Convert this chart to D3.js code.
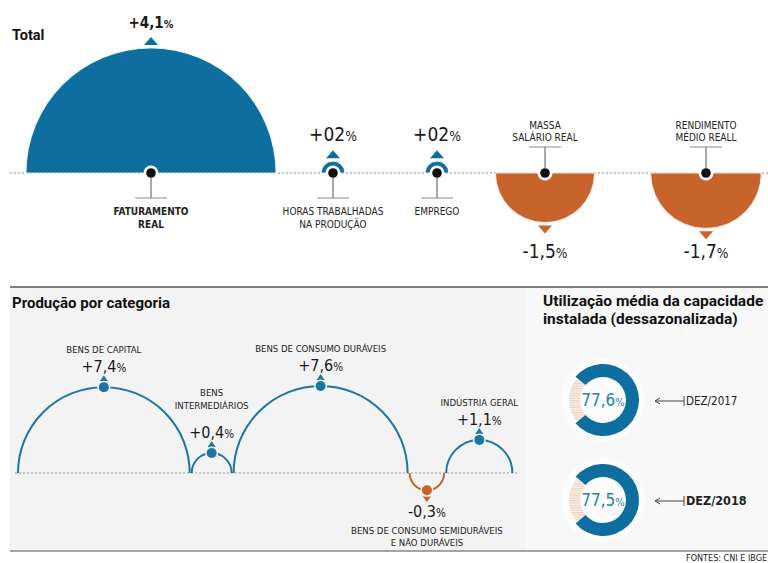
<!DOCTYPE html>
<html>
<head>
<meta charset="utf-8">
<script src="https://cdn.jsdelivr.net/npm/d3@7"></script>
<style>
  body { margin: 0; background: #fff; }
  svg { display: block; font-family: 'Liberation Sans Narrow', 'DejaVu Sans Condensed', sans-serif; }
  .title { font-family: Roboto, 'Noto Sans', sans-serif; font-weight: bold; fill: #111; }
</style>
</head>
<body>
<script>
// top block: total indicators
const topNames = [['FATURAMENTO', 'REAL'], ['HORAS TRABALHADAS', 'NA PRODUÇÃO'], ['EMPREGO'],
  ['MASSA', 'SALÁRIO REAL'], ['RENDIMENTO', 'MÉDIO REALL']];
const topValues = [4.1, 0.2, 0.2, -1.5, -1.7];
const topValueText = ['+4,1', '+02', '+02', '-1,5', '-1,7'];

// bottom block: production by category
const catNames = [['BENS DE CAPITAL'], ['BENS', 'INTERMEDIÁRIOS'], ['BENS DE CONSUMO DURÁVEIS'],
  ['BENS DE CONSUMO SEMIDURÁVEIS', 'E NÃO DURÁVEIS'], ['INDÚSTRIA GERAL']];
const catValues = [7.4, 0.4, 7.6, -0.3, 1.1];
const catValueText = ['+7,4', '+0,4', '+7,6', '-0,3', '+1,1'];

// capacity usage
const capPeriods = ['DEZ/2017', 'DEZ/2018'];
const capValues = [77.6, 77.5];
const capValueText = ['77,6', '77,5'];

const W = 768, H = 563;
const blue = '#0e6e9f', orange = '#c8632c', lineBlue = '#1b76a1';

const svg = d3.select('body').append('svg').attr('width', W).attr('height', H);

const defs = svg.append('defs');
const pat = defs.append('pattern').attr('id', 'hatch').attr('patternUnits', 'userSpaceOnUse')
  .attr('width', 4).attr('height', 2.4);
pat.append('rect').attr('width', 4).attr('height', 2.4).attr('fill', '#f8eee6');
pat.append('rect').attr('width', 4).attr('height', 1).attr('fill', '#ecd2bd');

// helper for value labels with small %
const valueLabel = (g, x, y, txt, size, bold) => {
  const t = g.append('text').attr('x', x).attr('y', y).attr('text-anchor', 'middle')
    .style('font-size', size + 'px').style('font-weight', bold ? 'bold' : 'normal').attr('fill', '#1a1a1a');
  t.append('tspan').text(txt);
  t.append('tspan').text('%').style('font-size', (size * 0.72) + 'px');
  return t;
};

//---------------- TOP ----------------
const baseTop = 173;
svg.append('text').attr('class', 'title').attr('x', 12).attr('y', 40).style('font-size', '14.5px').text('Total');
svg.append('line').attr('x1', 10).attr('x2', W).attr('y1', baseTop).attr('y2', baseTop)
  .attr('stroke', '#8a8a8a').attr('stroke-dasharray', '2,2');

const rTop = d3.scaleLinear().domain([0, 4.1]).range([6, 125]);
const xTop = d3.scaleOrdinal().domain(d3.range(topValues.length)).range([151, 333, 437, 545, 706]);
const arcGen = d3.arc().innerRadius(0);

topValues.forEach((v, i) => {
  const g = svg.append('g');
  const cx = xTop(i), r = rTop(Math.abs(v)), pos = v >= 0;
  const col = pos ? blue : orange;
  g.append('path')
    .attr('transform', `translate(${cx},${baseTop})`)
    .attr('d', arcGen({ outerRadius: r, startAngle: pos ? -Math.PI / 2 : Math.PI / 2, endAngle: pos ? Math.PI / 2 : Math.PI * 1.5 }))
    .attr('fill', col).attr('stroke', '#fff').attr('stroke-width', 0.8);
  // arrow
  const tip = pos ? baseTop - r - 11 : baseTop + r + 11;
  const bse = pos ? baseTop - r - 3 : baseTop + r + 3;
  g.append('path').attr('d', `M${cx - 7},${bse}L${cx + 7},${bse}L${cx},${tip}Z`).attr('fill', col);
  // center dot
  g.append('circle').attr('cx', cx).attr('cy', baseTop).attr('r', 7.5).attr('fill', '#fff');
  g.append('circle').attr('cx', cx).attr('cy', baseTop).attr('r', 4.8).attr('fill', '#111');
  // value
  if (pos) valueLabel(g, cx, baseTop - r - 20, topValueText[i], i === 0 ? 15 : 19, i === 0);
  else valueLabel(g, cx, 258, topValueText[i], 19, false);
  // name with leader
  const names = topNames[i];
  if (pos) {
    g.append('line').attr('x1', cx).attr('x2', cx).attr('y1', baseTop + 5).attr('y2', 198).attr('stroke', '#555');
    g.append('line').attr('x1', cx - 16).attr('x2', cx + 16).attr('y1', 198).attr('y2', 198).attr('stroke', '#888');
    names.forEach((n, k) => g.append('text').attr('x', cx).attr('y', 215 + k * 13).attr('text-anchor', 'middle')
      .style('font-size', '10px').style('font-weight', i === 0 ? 'bold' : 'normal').attr('fill', '#222').text(n));
  } else {
    g.append('line').attr('x1', cx).attr('x2', cx).attr('y1', 147).attr('y2', baseTop - 5).attr('stroke', '#555');
    g.append('line').attr('x1', cx - 16).attr('x2', cx + 16).attr('y1', 147).attr('y2', 147).attr('stroke', '#888');
    names.forEach((n, k) => g.append('text').attr('x', cx).attr('y', 141 - (names.length - 1 - k) * 12).attr('text-anchor', 'middle')
      .style('font-size', '10px').attr('fill', '#222').text(n));
  }
});

//---------------- BOTTOM PANELS ----------------
svg.append('rect').attr('x', 10).attr('y', 288).attr('width', 515).attr('height', 263).attr('fill', '#f3f3f3');
svg.append('rect').attr('x', 525).attr('y', 288).attr('width', W - 525).attr('height', 263).attr('fill', '#f8f8f8');
svg.append('line').attr('x1', 10).attr('x2', W).attr('y1', 287).attr('y2', 287).attr('stroke', '#555').attr('stroke-width', 1.5);
svg.append('line').attr('x1', 10).attr('x2', W).attr('y1', 551).attr('y2', 551).attr('stroke', '#888').attr('stroke-width', 1.5);

svg.append('text').attr('class', 'title').attr('x', 12).attr('y', 308).style('font-size', '15px').text('Produção por categoria');

const baseBot = 473;
svg.append('line').attr('x1', 15).attr('x2', 518).attr('y1', baseBot).attr('y2', baseBot)
  .attr('stroke', '#999').attr('stroke-dasharray', '2,2');

const rCat = d3.scaleSqrt().domain([0, 7.6]).range([0, 87]);
let xCursor = 18;
const cats = catValues.map((v, i) => {
  const r = rCat(Math.abs(v));
  const cx = xCursor + r;
  xCursor = cx + r + 2;
  return { v, r, cx, i };
});

cats.forEach((d) => {
  const g = svg.append('g');
  const pos = d.v >= 0, col = pos ? lineBlue : orange;
  const p = d3.path();
  p.moveTo(d.cx - d.r, baseBot);
  p.arc(d.cx, baseBot, d.r, Math.PI, pos ? 2 * Math.PI : 0, !pos);
  g.append('path').attr('d', p.toString()).attr('fill', 'none').attr('stroke', col).attr('stroke-width', 2);
  const py = pos ? baseBot - d.r : baseBot + d.r;
  // arrow + dot
  const tip = pos ? py - 12 : py + 12, bse = pos ? py - 6 : py + 6;
  g.append('path').attr('d', `M${d.cx - 4},${bse}L${d.cx + 4},${bse}L${d.cx},${tip}Z`).attr('fill', col);
  g.append('circle').attr('cx', d.cx).attr('cy', py).attr('r', 6.5).attr('fill', '#f3f3f3');
  g.append('circle').attr('cx', d.cx).attr('cy', py).attr('r', 5).attr('fill', col);
  const names = catNames[d.i];
  if (pos) {
    const vy = py - 15;
    valueLabel(g, d.cx, vy, catValueText[d.i], 16, false);
    // two-line names sit a bit higher above the value
    const extra = names.length > 1 ? 10 : 0;
    names.forEach((n, k) => g.append('text').attr('x', d.cx).attr('y', vy - 19 - extra - (names.length - 1 - k) * 13)
      .attr('text-anchor', 'middle').style('font-size', '9.5px').attr('fill', '#222').text(n));
  } else {
    const vy = py + 27;
    valueLabel(g, d.cx, vy, catValueText[d.i], 16, false);
    names.forEach((n, k) => g.append('text').attr('x', d.cx).attr('y', vy + 17 + k * 12)
      .attr('text-anchor', 'middle').style('font-size', '9.5px').attr('fill', '#222').text(n));
  }
});

//---------------- CAPACITY ----------------
const tt = svg.append('text').attr('class', 'title').attr('x', 543).style('font-size', '15.5px');
tt.append('tspan').attr('x', 543).attr('y', 306).text('Utilização média da capacidade');
tt.append('tspan').attr('x', 543).attr('y', 324).text('instalada (dessazonalizada)');

const yCap = d3.scalePoint().domain(capPeriods).range([400, 500]);
const angle = d3.scaleLinear().domain([0, 100]).range([0, 2 * Math.PI]);
const donutX = 603;
capValues.forEach((v, i) => {
  const g = svg.append('g').attr('transform', `translate(${donutX},${yCap(capPeriods[i])})`);
  const span = angle(v), gap = 2 * Math.PI - span;
  const s = -Math.PI / 2 + gap / 2;
  g.append('circle').attr('r', 42).attr('fill', '#fff').attr('opacity', 0.55);
  g.append('path').attr('d', d3.arc()({ innerRadius: 23, outerRadius: 34, startAngle: s - gap, endAngle: s }))
    .attr('fill', 'url(#hatch)');
  g.append('path').attr('d', d3.arc()({ innerRadius: 23, outerRadius: 36, startAngle: s, endAngle: s + span }))
    .attr('fill', blue);
  const t = g.append('text').attr('y', 6).attr('text-anchor', 'middle').attr('fill', '#2b7fa8')
    .style('font-size', '17px');
  t.append('tspan').text(capValueText[i]);
  t.append('tspan').text('%').style('font-size', '11px');
  // arrow
  g.append('line').attr('x1', 52).attr('x2', 81).attr('y1', 1).attr('y2', 1).attr('stroke', '#444');
  g.append('path').attr('d', 'M57,-2L52,1L57,4').attr('fill', 'none').attr('stroke', '#444');
  g.append('line').attr('x1', 81).attr('x2', 81).attr('y1', -4).attr('y2', 6).attr('stroke', '#444');
  g.append('text').attr('x', 83).attr('y', 5).style('font-size', i === 1 ? '12.5px' : '11.5px')
    .style('font-weight', i === 1 ? 'bold' : 'normal').attr('fill', '#222').text(capPeriods[i]);
});

svg.append('text').attr('x', 686).attr('y', 561).style('font-size', '9px').attr('fill', '#222').text('FONTES: CNI E IBGE');
</script>
</body>
</html>
